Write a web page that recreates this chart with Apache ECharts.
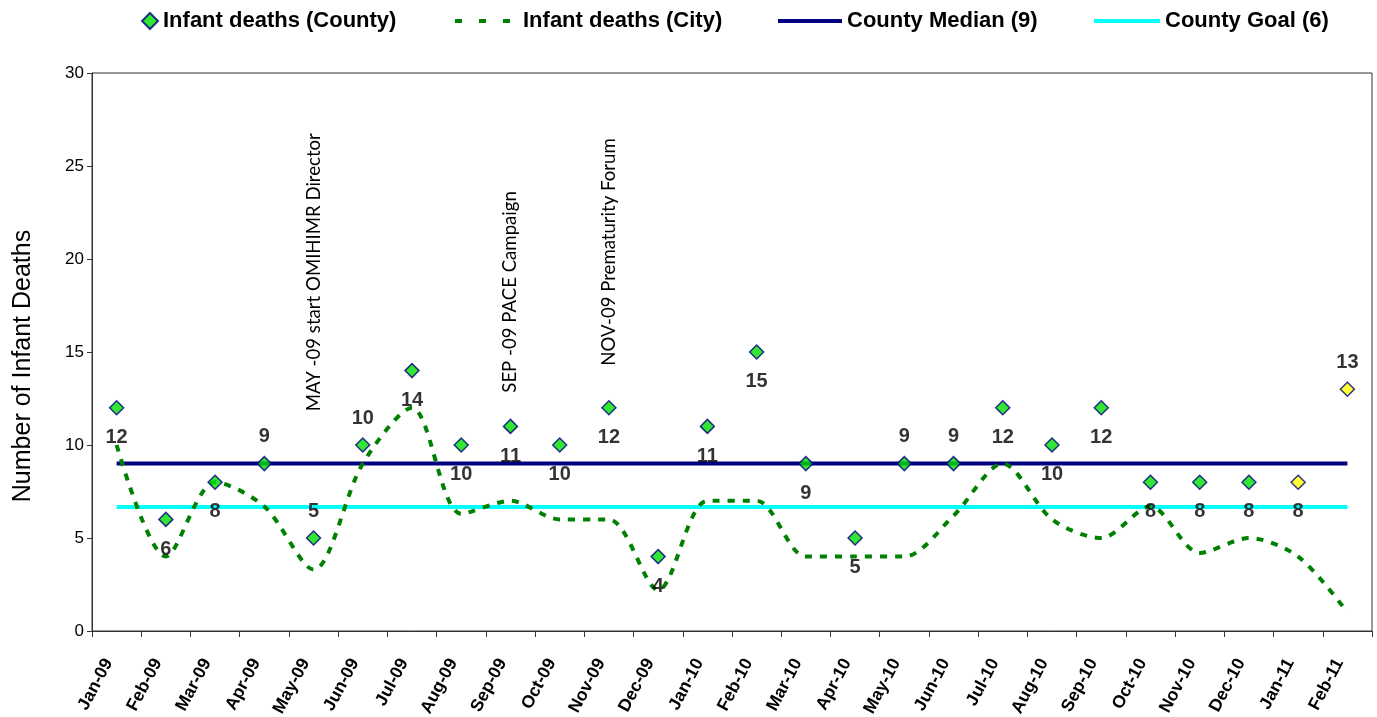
<!DOCTYPE html>
<html>
<head>
<meta charset="utf-8">
<script src="https://cdn.jsdelivr.net/npm/echarts@6/dist/echarts.min.js"></script>
<style>
html,body{margin:0;padding:0;background:#fff;}
#chart{width:1377px;height:717px;}
</style>
</head>
<body>
<div id="chart"></div>
<script>
// ---- data ----
var months = ['Jan-09','Feb-09','Mar-09','Apr-09','May-09','Jun-09','Jul-09','Aug-09','Sep-09','Oct-09','Nov-09','Dec-09',
              'Jan-10','Feb-10','Mar-10','Apr-10','May-10','Jun-10','Jul-10','Aug-10','Sep-10','Oct-10','Nov-10','Dec-10',
              'Jan-11','Feb-11'];
var countyDeaths = [12,6,8,9,5,10,14,10,11,10,12,4,11,15,9,5,9,9,12,10,12,8,8,8,8,13];
var cityDeaths   = [10,4,8,6.7,3.3,9,12,6.3,7,6,6,2.2,7,7,4,4,4,6.2,9,6,5,6.7,4.2,5,4,1];
var countyLabelSide = ['bottom','bottom','bottom','top','top','top','bottom','bottom','bottom','bottom','bottom','bottom',
                       'bottom','bottom','bottom','bottom','top','top','bottom','bottom','bottom','bottom','bottom','bottom',
                       'bottom','top'];
var provisional = [false,false,false,false,false,false,false,false,false,false,false,false,
                   false,false,false,false,false,false,false,false,false,false,false,false,
                   true,true];
var countyMedian = 9;
var countyGoal = 6.67;
var yTicks = [0,5,10,15,20,25,30];
var annotations = [
  {month:'May-09', at:11.65, text:'MAY -09 start OMIHIMR Director'},
  {month:'Sep-09', at:12.65, text:'SEP -09 PACE Campaign'},
  {month:'Nov-09', at:14.1, text:'NOV-09 Prematurity Forum'}
];

// ---- chart ----
var chart = echarts.init(document.getElementById('chart'), null, {renderer:'canvas'});
var GREEN = '#00e000', YELLOW = '#ffff00', NAVY = '#000080', CYAN = '#00ffff', DGREEN = '#008000';
var FONT = 'Arial, "Liberation Sans", sans-serif';

var countyData = countyDeaths.map(function(v,i){
  var side = countyLabelSide[i];
  return {
    value: v,
    itemStyle: {color: provisional[i] ? YELLOW : GREEN},
    label: {position: side, distance: side === 'bottom' ? 12 : 9}
  };
});

var legendText = {fontFamily:FONT, fontWeight:'bold', fontSize:22, color:'#000'};
var dashIcon = 'path://M0,0h7v4h-7zM24,0h7v4h-7zM48,0h7v4h-7z';
var solidIcon = 'path://M0,0h64v4h-64z';

var option = {
  backgroundColor:'#fff',
  animation:false,
  grid:{left:92, right:5, top:73, bottom:86, containLabel:false, outerBoundsMode:'none',
        show:true, borderColor:'#333', borderWidth:1, backgroundColor:'#fff'},
  legend:[
    {left:136, top:5, itemWidth:16, itemHeight:16, textStyle:legendText, data:[{name:'Infant deaths (County)', icon:'diamond'}]},
    {left:450, top:5, itemWidth:55, itemHeight:16, textStyle:Object.assign({padding:[0,0,0,8]}, legendText), data:[{name:'Infant deaths (City)', icon:dashIcon}]},
    {left:773, top:5, itemWidth:64, itemHeight:16, textStyle:legendText, data:[{name:'County Median (9)', icon:solidIcon}]},
    {left:1089, top:5, itemWidth:66, itemHeight:16, textStyle:legendText, data:[{name:'County Goal (6)', icon:solidIcon}]}
  ],
  xAxis:{
    type:'category',
    data: months,
    boundaryGap:true,
    axisLine:{lineStyle:{color:'#333', width:1}},
    axisTick:{show:true, length:6, alignWithLabel:false, lineStyle:{color:'#333'}},
    axisLabel:{interval:0, rotate:62, margin:14, padding:[0,17,0,0], color:'#000', fontFamily:FONT, fontWeight:'bold', fontSize:17.5},
    splitLine:{show:false}
  },
  yAxis:{
    type:'value',
    min:yTicks[0], max:yTicks[yTicks.length-1], interval:yTicks[1]-yTicks[0],
    name:'Number of Infant Deaths',
    nameLocation:'middle',
    nameGap:56,
    nameTextStyle:{fontFamily:FONT, fontSize:25, color:'#000', padding:[0,28,0,0]},
    axisLine:{show:true, lineStyle:{color:'#333', width:1}},
    axisTick:{show:true, length:5, lineStyle:{color:'#333'}},
    axisLabel:{margin:8, color:'#000', fontFamily:FONT, fontSize:17},
    splitLine:{show:false}
  },
  series:[
    {
      name:'County Median (9)', type:'line', data: months.map(function(){return countyMedian;}),
      symbol:'none', lineStyle:{color:NAVY, width:4}, itemStyle:{color:NAVY}, z:2
    },
    {
      name:'County Goal (6)', type:'line', data: months.map(function(){return countyGoal;}),
      symbol:'none', lineStyle:{color:CYAN, width:4}, itemStyle:{color:CYAN}, z:2
    },
    {
      name:'Infant deaths (City)', type:'line', data: cityDeaths, smooth:0.3,
      symbol:'none', lineStyle:{color:DGREEN, width:4, type:[7,8]}, itemStyle:{color:DGREEN}, z:3
    },
    {
      name:'Infant deaths (County)', type:'scatter', data: countyData,
      symbol:'diamond', symbolSize:14,
      itemStyle:{color:GREEN, borderColor:NAVY, borderWidth:1.5},
      label:{show:true, color:'#000', fontFamily:FONT, fontWeight:'bold', fontSize:20},
      z:5,
      markPoint:{
        symbol:'circle', symbolSize:0, silent:true,
        label:{show:true, position:'inside', formatter:'{b}', rotate:90, align:'left', verticalAlign:'middle',
               fontFamily:'Lato, "Open Sans", sans-serif', fontSize:18.6, color:'#000', offset:[3,0]},
        data: annotations.map(function(a){ return {name:a.text, coord:[a.month, a.at]}; })
      }
    }
  ]
};
chart.setOption(option);
</script>
</body>
</html>
